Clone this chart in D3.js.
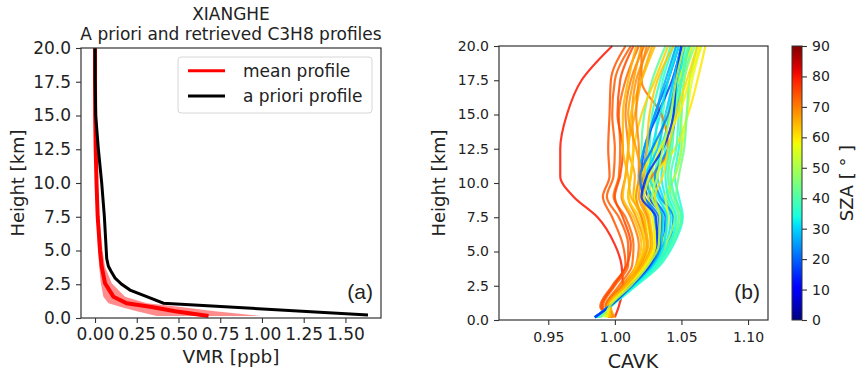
<!DOCTYPE html>
<html>
<head>
<meta charset="utf-8">
<script src="https://cdn.jsdelivr.net/npm/d3@7"></script>
<style>
  body { margin: 0; background: #fff; }
  text { font-family: "DejaVu Sans", sans-serif; fill: #222; }
</style>
</head>
<body>
<svg width="865" height="377"></svg>
<script>
// ---- panel (a) data: VMR [ppb] vs height [km]
const aprioriHeight = [0.22, 1.1, 1.58, 2.07, 2.5, 2.96, 3.46, 3.83, 4.4, 7.5, 10, 12.5, 15, 17.5, 20]
const aprioriVmr = [1.635, 0.41, 0.31, 0.21, 0.16, 0.12, 0.096, 0.08, 0.07, 0.056, 0.04, 0.02, 0.004, 0.001, 0.0]

const meanHeight = [0.15, 0.5, 0.84, 1.09, 1.58, 2.57, 3.8, 5, 7.5, 10, 12.5, 15, 17.5, 20]
const meanVmr = [0.68, 0.48, 0.33, 0.19, 0.11, 0.06, 0.04, 0.03, 0.016, 0.009, 0.004, 0.001, 0, 0]
const meanLow = [0.37, 0.25, 0.15, 0.08, 0.05, 0.035, 0.025, 0.018, 0.01, 0.005, 0.001, 0, 0, 0]
const meanHigh = [0.99, 0.72, 0.5, 0.31, 0.18, 0.1, 0.06, 0.045, 0.025, 0.015, 0.008, 0.003, 0.001, 0]

const vmrTicks = [0, 0.25, 0.5, 0.75, 1.0, 1.25, 1.5]
const heightTicks = [0, 2.5, 5, 7.5, 10, 12.5, 15, 17.5, 20]

// ---- panel (b) data: CAVK profiles coloured by SZA
const cavkHeight = [0.2, 1, 2.5, 4, 5.5, 7.5, 9, 10.5, 12.5, 15, 17.5, 20]
const curveSza = [80, 35, 74, 38, 73, 33, 72, 40, 70, 36, 68, 42, 66, 31, 71, 37,
  64, 20, 62, 17, 60, 24, 58, 26, 56, 48, 45,
  75, 44, 69, 39, 67, 34, 65, 32, 63, 29, 61, 22, 59, 15, 52]
const curveCavk = [
  [1.000, 1.003, 1.006, 1.005, 1.000, 0.987, 0.969, 0.959, 0.959, 0.964, 0.975, 0.998],
  [0.986, 0.997, 1.016, 1.034, 1.044, 1.051, 1.048, 1.045, 1.048, 1.050, 1.052, 1.058],
  [0.996, 0.989, 0.998, 1.008, 1.006, 0.998, 0.991, 0.996, 0.995, 0.996, 0.997, 1.008],
  [0.987, 0.996, 1.015, 1.032, 1.042, 1.048, 1.042, 1.040, 1.043, 1.045, 1.048, 1.055],
  [0.997, 0.991, 1.000, 1.010, 1.010, 1.003, 0.994, 0.999, 1.000, 0.998, 1.000, 1.012],
  [0.985, 0.996, 1.014, 1.030, 1.040, 1.044, 1.038, 1.035, 1.038, 1.040, 1.044, 1.050],
  [0.998, 0.993, 1.003, 1.013, 1.014, 1.008, 0.999, 1.003, 1.004, 1.003, 1.008, 1.018],
  [0.988, 0.995, 1.012, 1.028, 1.036, 1.040, 1.033, 1.030, 1.034, 1.036, 1.040, 1.046],
  [0.999, 0.994, 1.005, 1.016, 1.018, 1.012, 1.005, 1.008, 1.010, 1.008, 1.012, 1.022],
  [0.986, 0.995, 1.013, 1.026, 1.034, 1.036, 1.030, 1.028, 1.030, 1.032, 1.036, 1.044],
  [1.000, 0.996, 1.008, 1.018, 1.022, 1.016, 1.010, 1.012, 1.014, 1.013, 1.016, 1.026],
  [0.988, 0.995, 1.011, 1.024, 1.030, 1.030, 1.025, 1.020, 1.020, 1.022, 1.028, 1.038],
  [0.999, 0.997, 1.010, 1.020, 1.025, 1.020, 1.014, 1.015, 1.010, 1.015, 1.020, 1.028],
  [0.985, 0.996, 1.014, 1.029, 1.038, 1.042, 1.036, 1.032, 1.035, 1.042, 1.048, 1.052],
  [0.997, 0.993, 1.006, 1.020, 1.028, 1.025, 1.020, 1.028, 1.040, 1.035, 1.020, 1.020],
  [0.987, 0.996, 1.013, 1.027, 1.033, 1.034, 1.028, 1.024, 1.026, 1.028, 1.034, 1.042],
  [0.997, 0.995, 1.007, 1.016, 1.020, 1.014, 1.006, 1.008, 1.010, 1.012, 1.020, 1.030],
  [0.985, 0.996, 1.013, 1.028, 1.036, 1.038, 1.028, 1.022, 1.024, 1.030, 1.040, 1.048],
  [0.996, 0.996, 1.008, 1.017, 1.022, 1.018, 1.010, 1.012, 1.014, 1.020, 1.030, 1.040],
  [0.985, 0.996, 1.012, 1.026, 1.033, 1.035, 1.025, 1.020, 1.022, 1.032, 1.043, 1.050],
  [0.995, 0.995, 1.010, 1.022, 1.030, 1.030, 1.025, 1.030, 1.045, 1.055, 1.062, 1.068],
  [0.986, 0.996, 1.014, 1.030, 1.040, 1.044, 1.034, 1.030, 1.040, 1.046, 1.050, 1.056],
  [0.994, 0.995, 1.009, 1.020, 1.027, 1.022, 1.015, 1.020, 1.030, 1.040, 1.048, 1.058],
  [0.986, 0.995, 1.012, 1.025, 1.032, 1.030, 1.022, 1.018, 1.022, 1.030, 1.038, 1.046],
  [0.993, 0.996, 1.012, 1.026, 1.035, 1.040, 1.038, 1.045, 1.050, 1.054, 1.058, 1.065],
  [0.990, 0.996, 1.013, 1.028, 1.038, 1.045, 1.040, 1.045, 1.050, 1.050, 1.052, 1.060],
  [0.989, 0.997, 1.014, 1.030, 1.040, 1.048, 1.044, 1.040, 1.042, 1.045, 1.050, 1.055],
  [0.998, 0.990, 0.999, 1.009, 1.012, 1.006, 1.000, 1.004, 1.006, 1.002, 1.004, 1.014],
  [0.989, 0.996, 1.014, 1.031, 1.042, 1.050, 1.046, 1.048, 1.052, 1.054, 1.056, 1.062],
  [0.999, 0.995, 1.007, 1.019, 1.024, 1.020, 1.016, 1.018, 1.018, 1.016, 1.018, 1.024],
  [0.987, 0.996, 1.015, 1.033, 1.043, 1.050, 1.045, 1.042, 1.046, 1.048, 1.050, 1.056],
  [0.998, 0.996, 1.009, 1.021, 1.027, 1.024, 1.018, 1.020, 1.016, 1.010, 1.014, 1.020],
  [0.986, 0.996, 1.015, 1.031, 1.041, 1.046, 1.040, 1.038, 1.041, 1.044, 1.047, 1.053],
  [0.997, 0.995, 1.008, 1.018, 1.024, 1.022, 1.012, 1.010, 1.006, 1.006, 1.010, 1.016],
  [0.985, 0.996, 1.014, 1.029, 1.037, 1.039, 1.032, 1.026, 1.028, 1.034, 1.040, 1.048],
  [0.996, 0.996, 1.010, 1.022, 1.028, 1.026, 1.020, 1.022, 1.024, 1.026, 1.032, 1.044],
  [0.985, 0.996, 1.013, 1.028, 1.035, 1.036, 1.027, 1.024, 1.032, 1.038, 1.044, 1.050],
  [0.995, 0.996, 1.011, 1.024, 1.032, 1.034, 1.030, 1.036, 1.040, 1.046, 1.054, 1.062],
  [0.985, 0.996, 1.013, 1.027, 1.034, 1.033, 1.022, 1.019, 1.028, 1.040, 1.046, 1.052],
  [0.994, 0.996, 1.011, 1.023, 1.030, 1.028, 1.022, 1.026, 1.034, 1.048, 1.056, 1.064],
  [0.985, 0.996, 1.012, 1.026, 1.032, 1.031, 1.020, 1.024, 1.036, 1.044, 1.046, 1.050],
  [0.992, 0.996, 1.012, 1.025, 1.033, 1.034, 1.028, 1.032, 1.036, 1.042, 1.046, 1.052]
]
const cavkTicks = [0.95, 1.0, 1.05, 1.1]
const szaTicks = [0, 10, 20, 30, 40, 50, 60, 70, 80, 90]

const svg = d3.select('svg')
svg.append('rect').attr('width', 865).attr('height', 377).attr('fill', '#fff')

// matplotlib "jet"
const jetR = d3.scaleLinear().domain([0, 0.35, 0.66, 0.89, 1]).range([0, 0, 1, 1, 0.5]).clamp(true)
const jetG = d3.scaleLinear().domain([0, 0.125, 0.375, 0.64, 0.91, 1]).range([0, 0, 1, 1, 0, 0]).clamp(true)
const jetB = d3.scaleLinear().domain([0, 0.11, 0.34, 0.65, 1]).range([0.5, 1, 1, 0, 0]).clamp(true)
const jet = t => d3.rgb(jetR(t) * 255, jetG(t) * 255, jetB(t) * 255).toString()
const szaNorm = d3.scaleLinear().domain([0, 90]).range([0, 1])

function styleAxis(sel, fontSize) {
  sel.selectAll('.domain').remove()
  sel.selectAll('.tick line').attr('stroke', '#333').attr('stroke-width', 1.1)
  sel.selectAll('.tick text').attr('fill', '#222').style('font-size', fontSize + 'px')
    .style('font-family', '"DejaVu Sans", sans-serif')
}

// ================= panel (a)
const ax = { left: 81, right: 381, top: 48, bottom: 318 }
const xA = d3.scaleLinear().domain([-0.084, 1.713]).range([ax.left, ax.right])
const yA = d3.scaleLinear().domain([0, 20]).range([ax.bottom, ax.top])

const gA = svg.append('g')

const band = meanHeight.map((h, i) => ({ h, lo: meanLow[i], hi: meanHigh[i] }))
gA.append('path')
  .attr('d', d3.area().y(d => yA(d.h)).x0(d => xA(d.lo)).x1(d => xA(d.hi))(band))
  .attr('fill', '#ff0000').attr('fill-opacity', 0.45)

gA.append('path')
  .attr('d', d3.line().x(d => xA(d[0])).y(d => yA(d[1]))(meanVmr.map((v, i) => [v, meanHeight[i]])))
  .attr('fill', 'none').attr('stroke', '#ff0000').attr('stroke-width', 4)

gA.append('path')
  .attr('d', d3.line().x(d => xA(d[0])).y(d => yA(d[1]))(aprioriVmr.map((v, i) => [v, aprioriHeight[i]])))
  .attr('fill', 'none').attr('stroke', '#000').attr('stroke-width', 3)

gA.append('rect')
  .attr('x', ax.left).attr('y', ax.top)
  .attr('width', ax.right - ax.left).attr('height', ax.bottom - ax.top)
  .attr('fill', 'none').attr('stroke', '#333').attr('stroke-width', 1.2)

const xAxisA = gA.append('g').attr('transform', `translate(0, ${ax.bottom})`)
  .call(d3.axisBottom(xA).tickValues(vmrTicks).tickFormat(d3.format('.2f')).tickSize(5).tickPadding(5))
styleAxis(xAxisA, 17)
const yAxisA = gA.append('g').attr('transform', `translate(${ax.left}, 0)`)
  .call(d3.axisLeft(yA).tickValues(heightTicks).tickFormat(d3.format('.1f')).tickSize(5).tickPadding(5))
styleAxis(yAxisA, 17)

gA.append('text').attr('x', 231).attr('y', 20).attr('text-anchor', 'middle')
  .style('font-size', '17px').text('XIANGHE')
gA.append('text').attr('x', 231).attr('y', 39.5).attr('text-anchor', 'middle')
  .style('font-size', '17px').text('A priori and retrieved C3H8 profiles')
gA.append('text').attr('x', 231).attr('y', 363).attr('text-anchor', 'middle')
  .style('font-size', '18.5px').text('VMR [ppb]')
gA.append('text').attr('transform', `translate(24, 183) rotate(-90)`).attr('text-anchor', 'middle')
  .style('font-size', '18px').text('Height [km]')
gA.append('text').attr('x', 373).attr('y', 299).attr('text-anchor', 'end')
  .style('font-size', '21px').style('font-family', '"Liberation Sans", Arial, sans-serif').text('(a)')

// legend
const leg = gA.append('g')
leg.append('rect').attr('x', 178).attr('y', 57).attr('width', 194).attr('height', 56)
  .attr('rx', 3).attr('fill', '#fff').attr('fill-opacity', 0.8).attr('stroke', '#d6d6d6')
const legItems = [['mean profile', '#ff0000', 70.7], ['a priori profile', '#000', 96]]
legItems.forEach(([label, color, y]) => {
  leg.append('line').attr('x1', 188).attr('x2', 225).attr('y1', y).attr('y2', y)
    .attr('stroke', color).attr('stroke-width', 3)
  leg.append('text').attr('x', 243).attr('y', y + 6).style('font-size', '17px').text(label)
})

// ================= panel (b)
const bx = { left: 499, right: 768, top: 46, bottom: 320 }
const xB = d3.scaleLinear().domain([0.913, 1.115]).range([bx.left, bx.right])
const yB = d3.scaleLinear().domain([0, 20]).range([bx.bottom, bx.top])

const gB = svg.append('g')
const lineB = d3.line().curve(d3.curveMonotoneY).x(d => xB(d[0])).y(d => yB(d[1]))
gB.selectAll('path.cavk')
  .data(curveCavk.map((vals, i) => ({ sza: curveSza[i], pts: vals.map((v, j) => [v, cavkHeight[j]]) })))
  .join('path')
  .attr('class', 'cavk')
  .attr('d', d => lineB(d.pts))
  .attr('fill', 'none')
  .attr('stroke', d => jet(szaNorm(d.sza)))
  .attr('stroke-width', 2.2)
  .attr('stroke-opacity', 0.85)

gB.append('rect')
  .attr('x', bx.left).attr('y', bx.top)
  .attr('width', bx.right - bx.left).attr('height', bx.bottom - bx.top)
  .attr('fill', 'none').attr('stroke', '#333').attr('stroke-width', 1.2)

const xAxisB = gB.append('g').attr('transform', `translate(0, ${bx.bottom})`)
  .call(d3.axisBottom(xB).tickValues(cavkTicks).tickFormat(d3.format('.2f')).tickSize(5).tickPadding(7))
styleAxis(xAxisB, 14)
const yAxisB = gB.append('g').attr('transform', `translate(${bx.left}, 0)`)
  .call(d3.axisLeft(yB).tickValues(heightTicks).tickFormat(d3.format('.1f')).tickSize(5).tickPadding(5))
styleAxis(yAxisB, 14)

gB.append('text').attr('x', 633).attr('y', 368).attr('text-anchor', 'middle')
  .style('font-size', '19px').text('CAVK')
gB.append('text').attr('transform', `translate(445, 183) rotate(-90)`).attr('text-anchor', 'middle')
  .style('font-size', '18px').text('Height [km]')
gB.append('text').attr('x', 760).attr('y', 299).attr('text-anchor', 'end')
  .style('font-size', '21px').style('font-family', '"Liberation Sans", Arial, sans-serif').text('(b)')

// colorbar
const cb = { left: 792, right: 802, top: 46, bottom: 320 }
const grad = svg.append('defs').append('linearGradient').attr('id', 'jetgrad')
  .attr('x1', 0).attr('y1', 1).attr('x2', 0).attr('y2', 0)
d3.range(0, 1.0001, 0.02).forEach(t => {
  grad.append('stop').attr('offset', t).attr('stop-color', jet(t))
})
svg.append('rect').attr('x', cb.left).attr('y', cb.top)
  .attr('width', cb.right - cb.left).attr('height', cb.bottom - cb.top)
  .attr('fill', 'url(#jetgrad)').attr('stroke', '#333').attr('stroke-width', 1)
const yC = d3.scaleLinear().domain([0, 90]).range([cb.bottom, cb.top])
const cAxis = svg.append('g').attr('transform', `translate(${cb.right}, 0)`)
  .call(d3.axisRight(yC).tickValues(szaTicks).tickSize(5).tickPadding(5))
styleAxis(cAxis, 14)
svg.append('text').attr('transform', `translate(853, 183) rotate(-90)`).attr('text-anchor', 'middle')
  .style('font-size', '18px').text('SZA [ ° ]')
</script>
</body>
</html>
